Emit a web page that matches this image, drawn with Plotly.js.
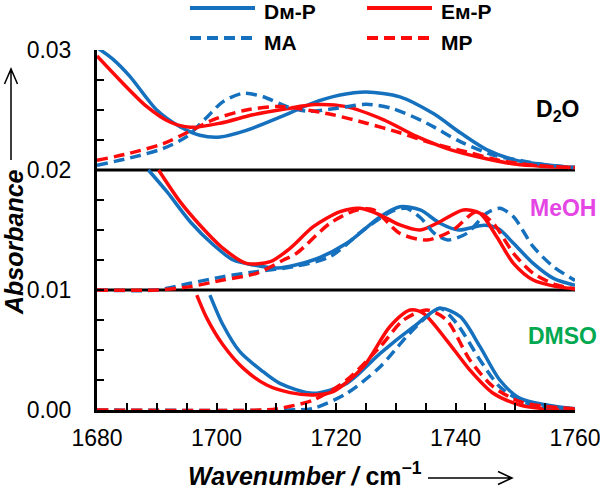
<!DOCTYPE html>
<html>
<head>
<meta charset="utf-8">
<script src="https://cdn.plot.ly/plotly-3.0.1.min.js"></script>
<style>html,body{margin:0;padding:0;background:#fff;}#chart{width:600px;height:488px;}</style>
</head>
<body>
<div id="chart"></div>
<script>
// ---------- DATA ----------
const seriesNames = ["Dм-P", "Eм-P", "MA", "MP"];
const solventLabels = ["D<sub>2</sub>O", "MeOH", "DMSO"];
const panelBaselines = [0.01, 0.02];
const xTickVals = [1680, 1700, 1720, 1740, 1760];
const yTickVals = [0.00, 0.01, 0.02, 0.03];

// D2O panel (offset +0.02)
const wnD2O_DmP = [1680, 1682.5, 1685.5, 1688, 1690, 1693.9, 1697.2, 1700.6, 1705, 1710.6, 1716.2, 1720.7, 1725.1, 1730.7, 1736.3, 1740.8, 1745.2, 1750.2, 1755.8, 1760];
const absD2O_DmP = [0.0302, 0.0293, 0.0278, 0.0262, 0.0250, 0.0236, 0.0229, 0.02275, 0.0233, 0.0244, 0.0256, 0.02625, 0.0265, 0.0261, 0.0247, 0.0231, 0.0217, 0.0208, 0.0204, 0.0202];
const wnD2O_EmP = [1680, 1683.8, 1688.3, 1692.2, 1695.6, 1700.6, 1706.1, 1711.7, 1716.5, 1721.5, 1727.9, 1733.5, 1739.1, 1744.6, 1750.2, 1755, 1760];
const absD2O_EmP = [0.0295, 0.0275, 0.0253, 0.0240, 0.02356, 0.0239, 0.0246, 0.0251, 0.02545, 0.0253, 0.0242, 0.0228, 0.0217, 0.0210, 0.02047, 0.0203, 0.0202];
const wnD2O_MA = [1680, 1685.5, 1691.1, 1695, 1698.4, 1701.1, 1704.5, 1707.8, 1711.7, 1715.1, 1719.5, 1725.1, 1729.6, 1735.2, 1740.8, 1746.3, 1751.9, 1755.5, 1760];
const absD2O_MA = [0.0204, 0.0210, 0.0218, 0.02278, 0.0244, 0.0257, 0.0264, 0.0261, 0.0253, 0.0249, 0.0251, 0.02547, 0.0251, 0.0239, 0.02236, 0.02125, 0.0207, 0.0204, 0.0202];
const wnD2O_MP = [1680, 1685.5, 1691.1, 1695, 1699.5, 1705, 1710.6, 1714, 1719.5, 1725.1, 1730.7, 1736.3, 1741.9, 1747.4, 1753, 1760];
const absD2O_MP = [0.0208, 0.0214, 0.0222, 0.0231, 0.0242, 0.0250, 0.0253, 0.0251, 0.0246, 0.0239, 0.0231, 0.0222, 0.0215, 0.0208, 0.0204, 0.0202];

// MeOH panel (offset +0.01)
const wnMeOH_DmP = [1688.6, 1691.7, 1695.6, 1699.5, 1702.8, 1706.2, 1710.3, 1716.2, 1721.8, 1727.4, 1730.7, 1734.1, 1737.4, 1740.5, 1744.8, 1747.2, 1749.7, 1753, 1756.4, 1760];
const absMeOH_DmP = [0.0200, 0.01819, 0.01569, 0.01375, 0.0125, 0.01208, 0.01183, 0.0125, 0.01389, 0.01611, 0.01694, 0.01667, 0.01556, 0.0150, 0.0154, 0.0151, 0.01389, 0.01222, 0.01097, 0.0104];
const wnMeOH_EmP = [1690.3, 1693.9, 1697.2, 1701.1, 1705, 1709, 1712.3, 1716.2, 1720.7, 1724, 1727.4, 1730.7, 1734.1, 1737.4, 1741.3, 1744.1, 1746.9, 1749.7, 1753, 1756.9, 1760];
const absMeOH_EmP = [0.0200, 0.01736, 0.01542, 0.01347, 0.01222, 0.01236, 0.01347, 0.01528, 0.01653, 0.01681, 0.01625, 0.01542, 0.0150, 0.01569, 0.01667, 0.01639, 0.01444, 0.01222, 0.01083, 0.01028, 0.0101];
const wnMeOH_MA = [1680, 1690, 1695.6, 1701.1, 1706.7, 1712.8, 1719, 1724.6, 1729.5, 1731.8, 1734.2, 1736.5, 1738.7, 1741.9, 1745.2, 1747.4, 1749.7, 1753, 1756.4, 1760];
const absMeOH_MA = [0.0100, 0.0100, 0.01056, 0.01111, 0.01153, 0.01194, 0.01278, 0.0150, 0.01660, 0.01680, 0.0160, 0.0147, 0.01417, 0.01472, 0.01639, 0.01681, 0.01611, 0.01361, 0.01194, 0.0108];
const wnMeOH_MP = [1680, 1690, 1695.6, 1701.1, 1706.7, 1711.2, 1713.4, 1719, 1723.5, 1726.3, 1730.7, 1735.2, 1739.6, 1743.5, 1746.3, 1749.7, 1753, 1756.9, 1760];
const absMeOH_MP = [0.0100, 0.0100, 0.01028, 0.01083, 0.01139, 0.0125, 0.01306, 0.01556, 0.01667, 0.01667, 0.01472, 0.01417, 0.0150, 0.01653, 0.01556, 0.01306, 0.01139, 0.01042, 0.0101];

// DMSO panel (offset 0)
const wnDMSO_DmP = [1698.9, 1701.1, 1703.9, 1707.8, 1710.6, 1716.2, 1721.8, 1727.4, 1733, 1737.4, 1740.8, 1744.1, 1747.4, 1750.8, 1755.3, 1760];
const absDMSO_DmP = [0.00958, 0.00708, 0.00486, 0.00319, 0.00222, 0.00139, 0.00222, 0.00472, 0.00694, 0.00847, 0.00778, 0.00528, 0.0025, 0.00097, 0.00042, 0.0001];
const wnDMSO_EmP = [1696.7, 1698.4, 1701.1, 1704.5, 1708.4, 1712.3, 1716.2, 1719.5, 1724.6, 1729, 1732.4, 1734.6, 1738.5, 1742.4, 1746.3, 1750.8, 1755, 1760];
const absDMSO_EmP = [0.00958, 0.00764, 0.00542, 0.00347, 0.00208, 0.00145, 0.00125, 0.00153, 0.00361, 0.00694, 0.00833, 0.00806, 0.00583, 0.00333, 0.00139, 0.00042, 0.0001, 0.0000];
const wnDMSO_MA = [1680, 1712, 1716.2, 1721.8, 1727.4, 1731.8, 1735.2, 1737.4, 1740.2, 1744.1, 1747.4, 1751.3, 1755, 1760];
const absDMSO_MA = [0, 0, 0.00014, 0.00139, 0.00361, 0.00611, 0.00778, 0.00847, 0.00722, 0.00417, 0.00194, 0.00069, 0.0003, 0.0001];
const wnDMSO_MP = [1680, 1708, 1710.6, 1716.2, 1721.8, 1727.4, 1731.3, 1735.2, 1738.5, 1742.4, 1746.3, 1750.8, 1755, 1760];
const absDMSO_MP = [0, 0, 0.00014, 0.00083, 0.0025, 0.00528, 0.0075, 0.00833, 0.0075, 0.00417, 0.00194, 0.00069, 0.0003, 0.0001];

// ---------- STYLE ----------
const BLUE = '#1570BE', RED = '#FF0A0A';
const LW = 3.5;
const DASH = '11px,6px';
const FONT = 'Liberation Sans, Arial, sans-serif';

// plot area in pixels (for decoration placement only)
const ML = 97, MR = 25, MT = 50, MB = 78, W = 600, H = 488;
const PW = W - ML - MR, PH = H - MT - MB;
const px = v => (v - ML) / PW;
const py = v => (H - MB - v) / PH;

const styles = {
  DmP: {color: BLUE, width: LW, dash: 'solid'},
  EmP: {color: RED, width: LW, dash: 'solid'},
  MA: {color: BLUE, width: LW, dash: DASH},
  MP: {color: RED, width: LW, dash: DASH}
};
function tr(x, y, key, name) {
  return {x: x, y: y, type: 'scatter', mode: 'lines', name: name, showlegend: false,
    line: Object.assign({shape: 'spline', smoothing: 0.8}, styles[key]), hoverinfo: 'skip'};
}
const traces = [
  tr(wnD2O_DmP, absD2O_DmP, 'DmP', seriesNames[0]),
  tr(wnD2O_EmP, absD2O_EmP, 'EmP', seriesNames[1]),
  tr(wnD2O_MA, absD2O_MA, 'MA', seriesNames[2]),
  tr(wnD2O_MP, absD2O_MP, 'MP', seriesNames[3]),
  tr(wnMeOH_DmP, absMeOH_DmP, 'DmP', seriesNames[0]),
  tr(wnMeOH_EmP, absMeOH_EmP, 'EmP', seriesNames[1]),
  tr(wnMeOH_MA, absMeOH_MA, 'MA', seriesNames[2]),
  tr(wnMeOH_MP, absMeOH_MP, 'MP', seriesNames[3]),
  tr(wnDMSO_DmP, absDMSO_DmP, 'DmP', seriesNames[0]),
  tr(wnDMSO_EmP, absDMSO_EmP, 'EmP', seriesNames[1]),
  tr(wnDMSO_MA, absDMSO_MA, 'MA', seriesNames[2]),
  tr(wnDMSO_MP, absDMSO_MP, 'MP', seriesNames[3])
];

const shapes = [];
panelBaselines.forEach(b => shapes.push({type: 'line', xref: 'paper', yref: 'y', x0: 0, x1: 1, y0: b, y1: b,
  line: {color: 'black', width: 3}, layer: 'below'}));

// axis arrows
shapes.push({type: 'path', xref: 'paper', yref: 'paper',
  path: `M${px(11)},${py(160)} L${px(11)},${py(69)} M${px(4.5)},${py(84)} L${px(11)},${py(69)} L${px(17.5)},${py(84)}`,
  line: {color: 'black', width: 1.5}});
shapes.push({type: 'path', xref: 'paper', yref: 'paper',
  path: `M${px(428)},${py(478)} L${px(512)},${py(478)} M${px(498)},${py(471.5)} L${px(512)},${py(478)} L${px(498)},${py(484.5)}`,
  line: {color: 'black', width: 1.5}});

// legend (custom, two columns)
const legendItems = [
  {key: 'DmP', name: seriesNames[0], x0: 190, y: 8},
  {key: 'EmP', name: seriesNames[1], x0: 367, y: 8},
  {key: 'MA', name: seriesNames[2], x0: 190, y: 38},
  {key: 'MP', name: seriesNames[3], x0: 367, y: 38}
];
const annotations = [];
legendItems.forEach(it => {
  const s = styles[it.key];
  shapes.push({type: 'line', xref: 'paper', yref: 'paper', x0: px(it.x0), x1: px(it.x0 + 65), y0: py(it.y), y1: py(it.y),
    line: {color: s.color, width: 4, dash: s.dash}});
  annotations.push({xref: 'paper', yref: 'paper', x: px(it.x0 + 72), y: py(it.y + 4), xanchor: 'left', yanchor: 'middle',
    text: '<b>' + it.name + '</b>', showarrow: false, font: {family: FONT, size: 21, color: 'black'}});
});

// solvent labels
const labelPos = [[557, 111, 'black'], [563, 208, '#E445E4'], [562, 336, '#00A850']];
solventLabels.forEach((t, i) => annotations.push({xref: 'paper', yref: 'paper', x: px(labelPos[i][0]), y: py(labelPos[i][1]),
  xanchor: 'center', yanchor: 'middle', text: '<b>' + t + '</b>', showarrow: false,
  font: {family: FONT, size: 23, color: labelPos[i][2]}}));

// axis titles
annotations.push({xref: 'paper', yref: 'paper', x: px(14), y: py(242), xanchor: 'center', yanchor: 'middle', textangle: -90,
  text: '<b><i>Absorbance</i></b>', showarrow: false, font: {family: FONT, size: 25, color: 'black'}});
annotations.push({xref: 'paper', yref: 'paper', x: px(305), y: py(474), xanchor: 'center', yanchor: 'middle',
  text: '<b><i>Wavenumber /</i> cm<sup>−1</sup></b>', showarrow: false, font: {family: FONT, size: 25, color: 'black'}});

const axisCommon = {showline: true, linecolor: 'black', linewidth: 3, ticks: 'inside', ticklen: 7, tickwidth: 2,
  tickcolor: 'black', showgrid: false, zeroline: false, mirror: false, ticklabeloverflow: 'allow',
  tickfont: {family: FONT, size: 23, color: 'black'}};

const layout = {
  width: W, height: H,
  margin: {l: ML, r: MR, t: MT, b: MB, pad: 0},
  paper_bgcolor: 'white', plot_bgcolor: 'white',
  showlegend: false,
  xaxis: Object.assign({}, axisCommon, {range: [1680, 1760], tickmode: 'array', tickvals: xTickVals,
    ticklabelstandoff: 5,
    minor: {dtick: 5, tick0: 1680, ticks: 'inside', ticklen: 7, tickwidth: 2, tickcolor: 'black', showgrid: false}}),
  yaxis: Object.assign({}, axisCommon, {range: [0, 0.03], tickmode: 'array', tickvals: yTickVals, tickformat: '.2f',
    ticklabelstandoff: 18,
    minor: {dtick: 0.0025, tick0: 0, ticks: 'inside', ticklen: 7, tickwidth: 2, tickcolor: 'black', showgrid: false}}),
  shapes: shapes,
  annotations: annotations
};

Plotly.newPlot('chart', traces, layout, {staticPlot: true, displayModeBar: false});
</script>
</body>
</html>
